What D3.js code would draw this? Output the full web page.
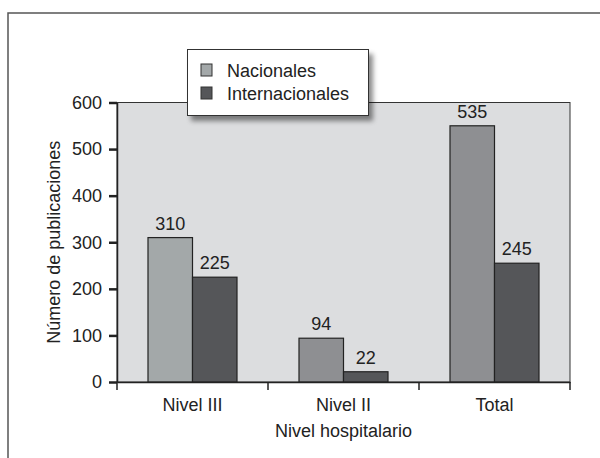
<!DOCTYPE html>
<html><head><meta charset="utf-8">
<script src="https://cdn.jsdelivr.net/npm/d3@7"></script>
<style>
body{margin:0;background:#fff;}
svg{display:block;font-family:"Liberation Sans",Arial,Helvetica,sans-serif;}
</style></head>
<body><svg id="c" width="600" height="458"></svg>
<script>
// ---- data ----
const categories = ["Nivel III", "Nivel II", "Total"];
const seriesNames = ["Nacionales", "Internacionales"];
// bar heights as drawn in the picture
const nacionales = [310, 94, 550];
const internacionales = [225, 22, 255];
// printed value labels
const nacionalesLabels = ["310", "94", "535"];
const internacionalesLabels = ["225", "22", "245"];
const yTicks = [0, 100, 200, 300, 400, 500, 600];
const yTitle = "Número de publicaciones";
const xTitle = "Nivel hospitalario";

// ---- styles ----
const nacColors = ["#a3a8a9", "#8e8f92", "#8e8f92"];
const intColor = "#555659";
const legendNacColor = "#a3a8a9";
const fontSize = 18;

const svg = d3.select("#c");
const defs = svg.append("defs");
const f = defs.append("filter").attr("id","sh").attr("x","-20%").attr("y","-20%").attr("width","150%").attr("height","160%");
f.append("feDropShadow").attr("dx",4).attr("dy",5).attr("stdDeviation",2.5).attr("flood-color","#000").attr("flood-opacity",0.45);

// outer frame
svg.append("rect").attr("x",8).attr("y",13).attr("width",700).attr("height",600)
  .attr("fill","none").attr("stroke","#555").attr("stroke-width",1.5);

const L = 117, R = 570, T = 102.5, B = 382;
const x = d3.scaleBand().domain(categories).range([L, R]).padding(0);
const sub = d3.scaleBand().domain(seriesNames).range([31, x.bandwidth() - 31]).padding(0);
const y = d3.scaleLinear().domain([0, 600]).range([B, T]);

// plot background
svg.append("rect").attr("x",L).attr("y",T).attr("width",R-L).attr("height",B-T)
  .attr("fill","#dcdddf").attr("stroke","#333").attr("stroke-width",1);

const rows = categories.map((c,i)=>({cat:c, i, vals:[
  {s:seriesNames[0], v:nacionales[i], lab:nacionalesLabels[i], col:nacColors[i]},
  {s:seriesNames[1], v:internacionales[i], lab:internacionalesLabels[i], col:intColor}
]}));

const g = svg.append("g").selectAll("g").data(rows).join("g")
  .attr("transform", d=>`translate(${x(d.cat)},0)`);
g.selectAll("rect").data(d=>d.vals).join("rect")
  .attr("x", d=>sub(d.s)).attr("width", sub.bandwidth())
  .attr("y", d=>y(d.v)).attr("height", d=>y(0)-y(d.v))
  .attr("fill", d=>d.col).attr("stroke","#222").attr("stroke-width",1.2);
g.selectAll("text").data(d=>d.vals).join("text")
  .attr("x", d=>sub(d.s)+sub.bandwidth()/2).attr("y", d=>y(d.v)-8)
  .attr("text-anchor","middle").attr("font-size",fontSize).attr("fill","#222")
  .text(d=>d.lab);

// y axis
const ya = svg.append("g").attr("transform",`translate(${L},0)`)
  .call(d3.axisLeft(y).tickValues(yTicks).tickSize(8).tickPadding(7).tickSizeOuter(0));
ya.select(".domain").attr("stroke","#222").attr("stroke-width",1.5);
ya.selectAll(".tick line").attr("stroke","#222").attr("stroke-width",2.5);
ya.selectAll(".tick text").attr("font-size",fontSize).attr("fill","#222").attr("font-family",null);

// x axis
const xa = svg.append("g").attr("transform",`translate(0,${B})`)
  .call(d3.axisBottom(x).tickSize(0).tickPadding(16).tickSizeOuter(0));
xa.select(".domain").attr("stroke","#222").attr("stroke-width",1.5);
xa.selectAll(".tick text").attr("font-size",fontSize).attr("fill","#222").attr("font-family",null);
const bounds = categories.map(c=>x(c)).concat([x(categories[categories.length-1])+x.bandwidth()]);
xa.selectAll("line.bnd").data(bounds).join("line").attr("class","bnd")
  .attr("x1",d=>d).attr("x2",d=>d).attr("y1",0).attr("y2",8)
  .attr("stroke","#222").attr("stroke-width",1.5);

// axis titles
svg.append("text").attr("transform",`translate(60,${(T+B)/2}) rotate(-90)`)
  .attr("text-anchor","middle").attr("font-size",fontSize).attr("fill","#222").text(yTitle);
svg.append("text").attr("x",(L+R)/2).attr("y",437)
  .attr("text-anchor","middle").attr("font-size",fontSize).attr("fill","#222").text(xTitle);

// legend
const lg = svg.append("g");
lg.append("rect").attr("x",187.5).attr("y",49.5).attr("width",181).attr("height",66)
  .attr("fill","#fff").attr("stroke","#333").attr("stroke-width",1).attr("filter","url(#sh)");
const legCols = [legendNacColor, intColor];
const li = lg.selectAll("g").data(seriesNames).join("g")
  .attr("transform",(d,i)=>`translate(0,${i*23})`);
li.append("rect").attr("x",201).attr("y",64).attr("width",11).attr("height",12)
  .attr("fill",(d,i)=>legCols[i]).attr("stroke","#333").attr("stroke-width",1);
li.append("text").attr("x",227).attr("y",77).attr("font-size",fontSize).attr("fill","#222").text(d=>d);
</script></body></html>
